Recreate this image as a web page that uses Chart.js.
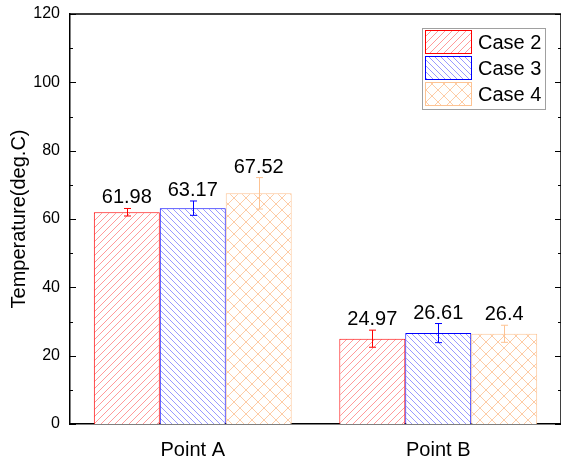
<!DOCTYPE html>
<html>
<head>
<meta charset="utf-8">
<title>Temperature by point</title>
<script src="https://cdn.jsdelivr.net/npm/chart.js@4.4.1/dist/chart.umd.min.js"></script>
<style>
  html, body { margin: 0; padding: 0; background: #ffffff; }
  #wrap { width: 561px; height: 461px; }
</style>
</head>
<body>
<div id="wrap"><canvas id="chart" width="561" height="461"></canvas></div>
<script>
// Measurement points and cases
const categories = ['Point A', 'Point B'];
const seriesNames = ['Case 2', 'Case 3', 'Case 4'];

// Mean temperature per case (deg.C)
const case2 = [61.98, 24.97];
const case3 = [63.17, 26.61];
const case4 = [67.52, 26.4];

// Half-width of the error bar per case
const case2Err = [1.1, 2.5];
const case3Err = [2.1, 2.8];
const case4Err = [4.6, 2.5];

// Y axis range
const yMin = 0;
const yMax = 120;
const yMajorStep = 20;
const yMinorStep = 10;

const borderColors = ['#ff0000', '#0000ff', '#fdc393'];
const hatchColors = ['#ff9a9a', '#9a9aff', '#fdcca6'];

// Build hatch fill patterns: '/', '\' and cross
function makeHatch(color, period, kind) {
  const c = document.createElement('canvas');
  c.width = period; c.height = period;
  const g = c.getContext('2d');
  g.fillStyle = '#ffffff';
  g.fillRect(0, 0, period, period);
  g.strokeStyle = color;
  g.lineWidth = 1;
  const p = period;
  function slash() {
    g.beginPath();
    g.moveTo(-1, p + 1); g.lineTo(p + 1, -1);
    g.moveTo(-1, 1); g.lineTo(1, -1);
    g.moveTo(p - 1, p + 1); g.lineTo(p + 1, p - 1);
    g.stroke();
  }
  function back() {
    g.beginPath();
    g.moveTo(-1, -1); g.lineTo(p + 1, p + 1);
    g.moveTo(p - 1, -1); g.lineTo(p + 1, 1);
    g.moveTo(-1, p - 1); g.lineTo(1, p + 1);
    g.stroke();
  }
  if (kind === 'slash' || kind === 'cross') slash();
  if (kind === 'back' || kind === 'cross') back();
  const ctx = document.getElementById('chart').getContext('2d');
  return ctx.createPattern(c, 'repeat');
}

const patterns = [
  makeHatch(hatchColors[0], 7, 'slash'),
  makeHatch(hatchColors[1], 6, 'back'),
  makeHatch(hatchColors[2], 12, 'cross')
];

const values = [case2, case3, case4];
const errors = [case2Err, case3Err, case4Err];

const FONT = 'Liberation Sans, Arial, sans-serif';

// Frame, inward ticks, error bars, value labels and legend
const decorations = {
  id: 'decorations',
  afterDatasetsDraw(chart) {
    const { ctx, chartArea: a, scales } = chart;
    const y = scales.y;
    ctx.save();

    // error bars
    ctx.lineWidth = 1;
    values.forEach((vals, i) => {
      const meta = chart.getDatasetMeta(i);
      ctx.strokeStyle = borderColors[i];
      vals.forEach((v, j) => {
        const bar = meta.data[j];
        const x = Math.round(bar.x) + 0.5;
        const yt = y.getPixelForValue(v + errors[i][j]);
        const yb = y.getPixelForValue(v - errors[i][j]);
        ctx.beginPath();
        ctx.moveTo(x, yt); ctx.lineTo(x, yb);
        ctx.moveTo(x - 3.5, yt); ctx.lineTo(x + 3.5, yt);
        ctx.moveTo(x - 3.5, yb); ctx.lineTo(x + 3.5, yb);
        ctx.stroke();
      });
    });

    // value labels above the error bars
    ctx.fillStyle = '#000000';
    ctx.font = '20px ' + FONT;
    ctx.textAlign = 'center';
    ctx.textBaseline = 'alphabetic';
    values.forEach((vals, i) => {
      const meta = chart.getDatasetMeta(i);
      vals.forEach((v, j) => {
        const bar = meta.data[j];
        const yt = y.getPixelForValue(v + errors[i][j]);
        ctx.fillText(String(v), bar.x, yt - 5);
      });
    });

    // top frame line and right axis
    ctx.strokeStyle = '#000000';
    ctx.lineWidth = 1.5;
    ctx.beginPath();
    ctx.moveTo(a.left, a.top); ctx.lineTo(a.right, a.top);
    ctx.moveTo(a.right, a.top); ctx.lineTo(a.right, a.bottom);
    ctx.stroke();

    // inward major/minor ticks on left and right
    ctx.lineWidth = 1;
    for (let v = yMin; v <= yMax; v += yMinorStep) {
      const py = Math.round(y.getPixelForValue(v)) + 0.5;
      const len = (v % yMajorStep === 0) ? 6 : 3;
      ctx.beginPath();
      ctx.moveTo(a.left, py); ctx.lineTo(a.left + len, py);
      ctx.moveTo(a.right, py); ctx.lineTo(a.right - len, py);
      ctx.stroke();
    }

    // legend inside the plot
    const lx = 422, ly = 28, lw = 123, lh = 81;
    ctx.fillStyle = '#ffffff';
    ctx.fillRect(lx, ly, lw, lh);
    ctx.strokeStyle = '#a0a0a0';
    ctx.lineWidth = 1;
    ctx.strokeRect(lx + 0.5, ly + 0.5, lw, lh);
    ctx.font = '20px ' + FONT;
    ctx.textAlign = 'left';
    ctx.textBaseline = 'middle';
    seriesNames.forEach((name, i) => {
      const sy = ly + 2 + i * 26;
      ctx.fillStyle = patterns[i];
      ctx.fillRect(lx + 3, sy, 47, 24);
      ctx.strokeStyle = borderColors[i];
      ctx.strokeRect(lx + 3.5, sy + 0.5, 46, 23);
      ctx.fillStyle = '#000000';
      ctx.fillText(name, lx + 56, sy + 13);
    });

    ctx.restore();
  }
};

new Chart(document.getElementById('chart'), {
  type: 'bar',
  data: {
    labels: categories,
    datasets: seriesNames.map((name, i) => ({
      label: name,
      data: values[i],
      backgroundColor: patterns[i],
      borderColor: borderColors[i],
      borderWidth: 1,
      borderSkipped: 'bottom',
      categoryPercentage: 0.806,
      barPercentage: 1.0
    }))
  },
  options: {
    responsive: false,
    animation: false,
    devicePixelRatio: 1,
    layout: { padding: { top: 14, right: 0, left: 0, bottom: 0 } },
    plugins: {
      legend: { display: false },
      tooltip: { enabled: false }
    },
    scales: {
      x: {
        grid: { display: false, drawTicks: false },
        border: { display: true, color: '#000000', width: 1.5 },
        ticks: { color: '#000000', font: { family: FONT, size: 20 }, padding: 14 },
        afterFit(scale) { scale.height = 37; }
      },
      y: {
        min: yMin,
        max: yMax,
        grid: { display: false, drawTicks: true, tickLength: 10 },
        border: { display: true, color: '#000000', width: 1.5 },
        ticks: { stepSize: yMajorStep, color: '#000000', font: { family: FONT, size: 16 }, padding: 0 },
        title: {
          display: true,
          text: 'Temperature(deg.C)',
          color: '#000000',
          font: { family: FONT, size: 20 },
          padding: { top: 7, bottom: 0 }
        },
        afterFit(scale) { scale.width = 70; }
      }
    }
  },
  plugins: [decorations]
});
</script>
</body>
</html>
